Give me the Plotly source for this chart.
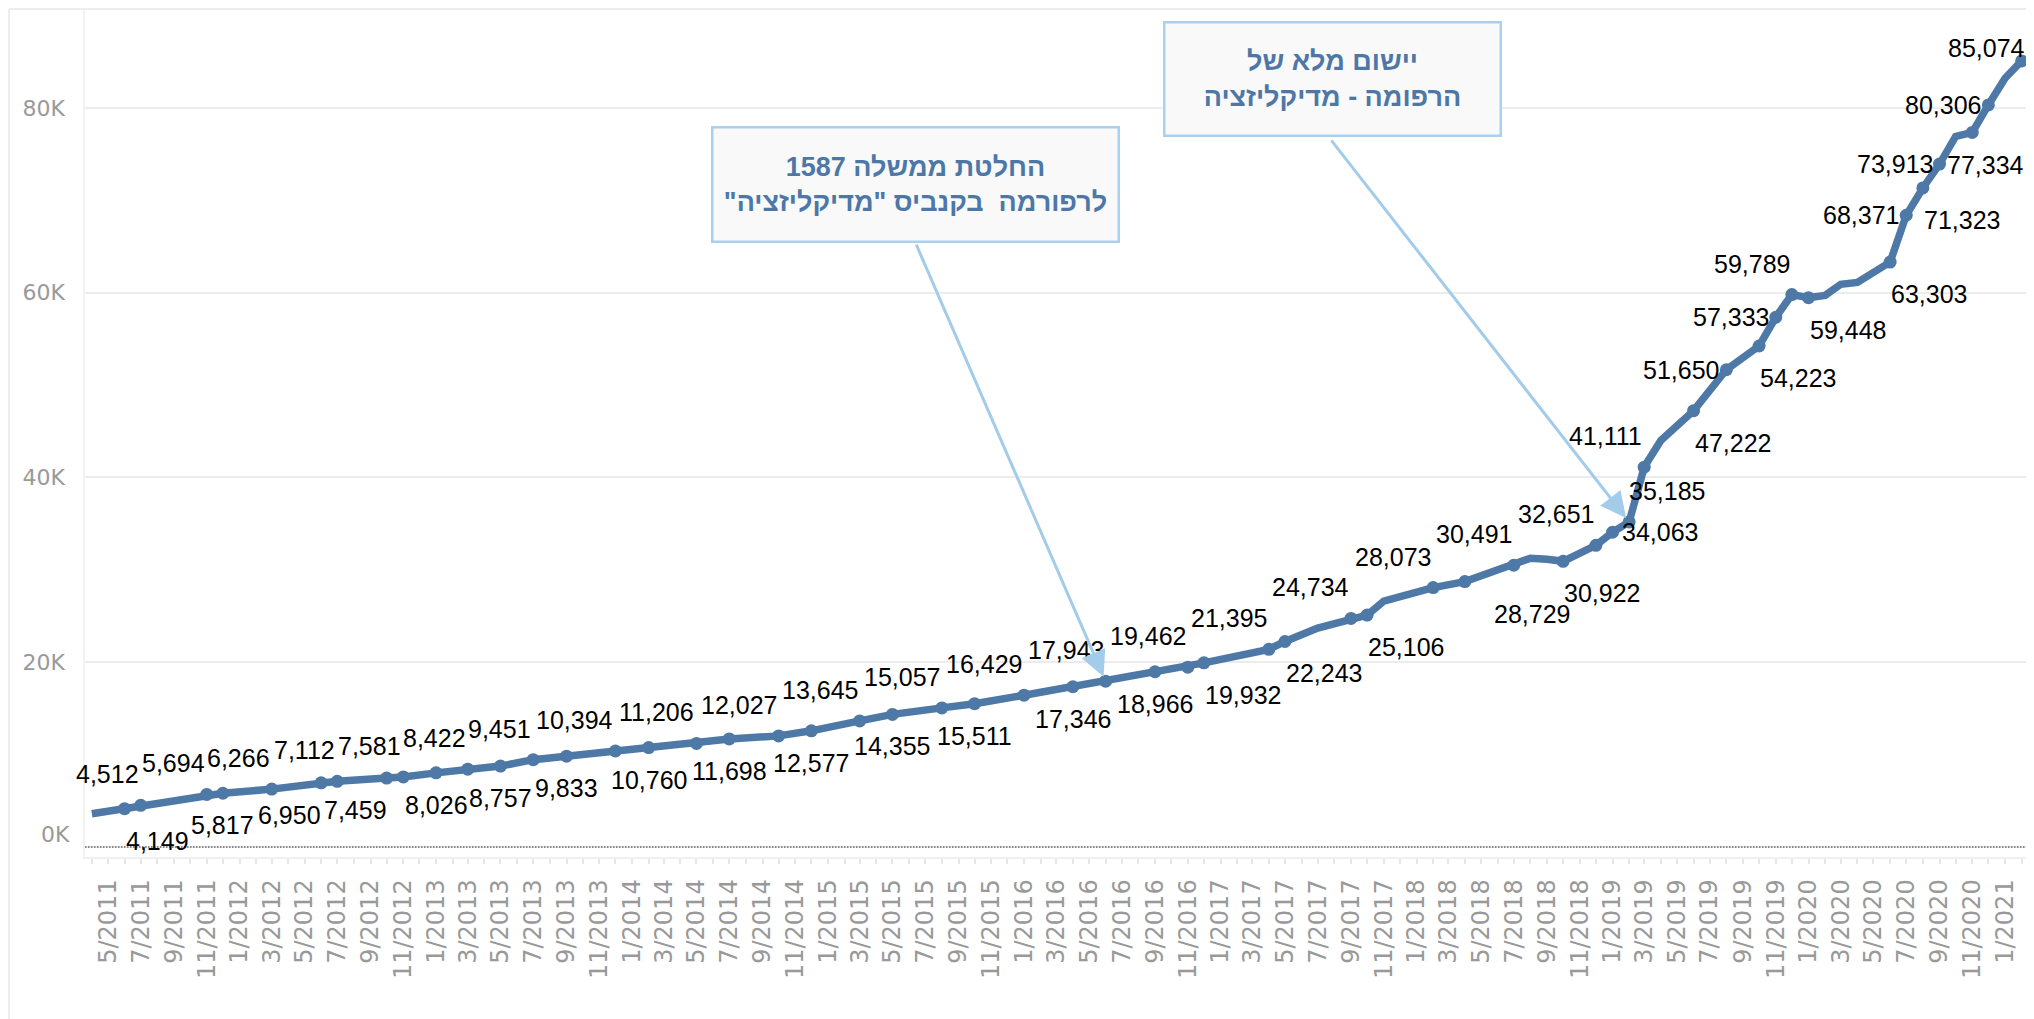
import plotly.graph_objects as go

# ---------------- data ----------------
# labelled monthly values (markers + value labels)
label_months = ["2011-06", "2011-07", "2011-11", "2011-12", "2012-03", "2012-06", "2012-07", "2012-10", "2012-11", "2013-01",
                "2013-03", "2013-05", "2013-07", "2013-09", "2013-12", "2014-02", "2014-05", "2014-07", "2014-10", "2014-12",
                "2015-03", "2015-05", "2015-08", "2015-10", "2016-01", "2016-04", "2016-06", "2016-09", "2016-11", "2016-12",
                "2017-04", "2017-05", "2017-09", "2017-10", "2018-02", "2018-04", "2018-07", "2018-10", "2018-12", "2019-01",
                "2019-02", "2019-03", "2019-06", "2019-08", "2019-10", "2019-11", "2019-12", "2020-01", "2020-06", "2020-07",
                "2020-08", "2020-09", "2020-11", "2020-12", "2021-02"]
label_values = [4149, 4512, 5694, 5817, 6266, 6950, 7112, 7459, 7581, 8026,
                8422, 8757, 9451, 9833, 10394, 10760, 11206, 11698, 12027, 12577,
                13645, 14355, 15057, 15511, 16429, 17346, 17943, 18966, 19462, 19932,
                21395, 22243, 24734, 25106, 28073, 28729, 30491, 30922, 32651, 34063,
                35185, 41111, 47222, 51650, 54223, 57333, 59789, 59448, 63303, 68371,
                71323, 73913, 77334, 80306, 85074]

# unlabelled vertices of the line that are visible as bends in the picture
bend_months = ["2011-04", "2017-07", "2017-11", "2018-08", "2018-09", "2019-04",
               "2020-02", "2020-03", "2020-04", "2020-10", "2021-01"]
bend_values = [3600, 23700, 26600, 31250, 31150, 44000,
               59700, 60900, 61100, 76900, 83200]

y_tick_values = [0, 20000, 40000, 60000, 80000]
y_tick_labels = ["0K", "20K", "40K", "60K", "80K"]

note_1_lines = ["החלטת ממשלה 1587", "לרפורמה  בקנביס \"מדיקליזציה\""]
note_2_lines = ["יישום מלא של", "הרפומה - מדיקליזציה"]

# ---------------- styling ----------------
# where each value label sits relative to its point
label_pos = ["br", "tl", "tl", "bc", "tl", "bl", "tl", "bl", "tl", "bc",
             "tl", "bc", "tl", "bc", "tl", "bc", "tl", "bc", "tl", "bc",
             "tl", "bc", "tl", "bc", "tl", "bc", "tl", "bc", "tl", "br",
             "tl", "br", "tl", "br", "tl", "bw", "tl", "br", "tl", "mr",
             "tr", "tl", "br", "ml", "br", "ml", "tl", "br", "br", "ml",
             "br", "ml", "bk", "ml", "tk"]
pos_style = {
    "tl": dict(xanchor="right", yanchor="middle", xshift=0, yshift=31),
    "tr": dict(xanchor="left", yanchor="middle", xshift=-2, yshift=31),
    "tk": dict(xanchor="right", yanchor="middle", xshift=5, yshift=13),
    "bc": dict(xanchor="center", yanchor="middle", xshift=0, yshift=-32),
    "br": dict(xanchor="left", yanchor="middle", xshift=-1, yshift=-32),
    "bw": dict(xanchor="left", yanchor="middle", xshift=27, yshift=-32),
    "bk": dict(xanchor="right", yanchor="middle", xshift=54, yshift=-33),
    "bl": dict(xanchor="right", yanchor="middle", xshift=2, yshift=-32),
    "ml": dict(xanchor="right", yanchor="middle", xshift=-5, yshift=0),
    "mr": dict(xanchor="left", yanchor="middle", xshift=7, yshift=0),
}

# the page body has an 8px default margin: work in page pixels, convert to figure pixels
BODY = 8
PAGE_W, PAGE_H = 2034, 1019
W, H = PAGE_W - BODY, PAGE_H - BODY
PLOT_L, PLOT_R, PLOT_T, PLOT_B = 85, 2028, 8, 857          # page pixels
ML, MR, MT, MB = PLOT_L - BODY, W - (PLOT_R - BODY), PLOT_T - BODY, H - (PLOT_B - BODY)
PW, PH = W - ML - MR, H - MT - MB

LINE_BLUE = "#4e79a7"
NOTE_BLUE = "#4d77a6"
ARROW_BLUE = "#a3cbea"
TICK_FONT = dict(family="DejaVu Sans, Verdana, sans-serif", size=22, color="#999999")


def px_x(px):
    return (px - PLOT_L) / PW


def px_y(py):
    return (PLOT_B - py) / PH


# line through every vertex (sorted by month)
pts = sorted(zip(label_months + bend_months, label_values + bend_values))
line_x = [p[0] for p in pts]
line_y = [p[1] for p in pts]

fig = go.Figure()
fig.add_trace(go.Scatter(
    x=line_x, y=line_y, mode="lines",
    line=dict(color=LINE_BLUE, width=7.5),
    hoverinfo="skip", showlegend=False, cliponaxis=False))
fig.add_trace(go.Scatter(
    x=label_months, y=label_values, mode="markers",
    marker=dict(color=LINE_BLUE, size=13),
    hoverinfo="skip", showlegend=False, cliponaxis=False))

annotations = []
for m, v, p in zip(label_months, label_values, label_pos):
    st = pos_style[p]
    annotations.append(dict(
        x=m, y=v, xref="x", yref="y", text=f"{v:,}", showarrow=False,
        font=dict(family="Liberation Sans, Arial, sans-serif", size=25, color="#000000"),
        **st))

# the "0K" tick label sits a little above the zero line, as in the original
annotations.append(dict(
    xref="paper", yref="y", x=0, y=y_tick_values[0], text=y_tick_labels[0],
    xanchor="right", yanchor="middle", xshift=-13, yshift=13,
    showarrow=False, font=TICK_FONT))


def rtl(s):
    return "\u200f" + s + "\u200f"


def note(lines, cx, cy, w, h):
    return dict(
        xref="paper", yref="paper", x=px_x(cx), y=px_y(cy),
        xanchor="center", yanchor="middle",
        text="<br>".join("<b>" + rtl(s) + "</b>" for s in lines),
        showarrow=False, align="center", valign="middle",
        bgcolor="#f9f9f9", bordercolor="#aad0ee", borderwidth=2.5, borderpad=0,
        width=w, height=h,
        font=dict(family="Liberation Sans, Arial, DejaVu Sans, sans-serif", size=27, color=NOTE_BLUE))


annotations.append(note(note_1_lines, 915.5, 184.5, 404, 112))
annotations.append(note(note_2_lines, 1332.5, 79, 334, 111))

# arrows from the notes to the points they refer to
i1 = label_values.index(17943)
i2 = label_values.index(35185)
annotations.append(dict(
    x=label_months[i1], y=label_values[i1], xref="x", yref="y",
    ax=-190, ay=-438, axref="pixel", ayref="pixel", text="",
    showarrow=True, arrowhead=2, arrowsize=1.7, arrowwidth=3, arrowcolor=ARROW_BLUE, standoff=5))
annotations.append(dict(
    x=label_months[i2], y=label_values[i2], xref="x", yref="y",
    ax=-299, ay=-383, axref="pixel", ayref="pixel", text="",
    showarrow=True, arrowhead=2, arrowsize=1.7, arrowwidth=3, arrowcolor=ARROW_BLUE, standoff=5))

shapes = [
    # dotted zero line
    dict(type="line", xref="paper", yref="y", x0=0, x1=1, y0=0, y1=0,
         line=dict(color="#666666", width=1.5, dash="1.5px,1.5px")),
    # faint outer border of the sheet
    dict(type="line", xref="paper", yref="paper", x0=px_x(9), x1=px_x(9), y0=px_y(9), y1=px_y(PAGE_H),
         line=dict(color="#ededed", width=2)),
    dict(type="line", xref="paper", yref="paper", x0=px_x(9), x1=px_x(PAGE_W), y0=px_y(9), y1=px_y(9),
         line=dict(color="#ededed", width=2)),
]

fig.update_layout(
    width=W, height=H, autosize=False,
    margin=dict(l=ML, r=MR, t=MT, b=MB, pad=0),
    paper_bgcolor="white", plot_bgcolor="white",
    showlegend=False,
    annotations=annotations,
    shapes=shapes,
    xaxis=dict(
        type="date",
        range=["2011-03-19 05:00", "2021-02-12 19:00"],
        tick0="2011-05-01", dtick="M2", tickformat="%-m/%Y",
        tickangle=-90,
        tickfont=dict(family="DejaVu Sans, Verdana, sans-serif", size=24, color="#999999"),
        ticks="outside", ticklen=5, tickcolor="#e6e6e6", tickwidth=1.5,
        minor=dict(dtick="M1", ticks="outside", ticklen=5, tickcolor="#e6e6e6", tickwidth=1.5, showgrid=False),
        showgrid=False, zeroline=False,
        showline=True, linecolor="#efefef", linewidth=1.5,
        ticklabelstandoff=6,
        fixedrange=True,
    ),
    yaxis=dict(
        range=[-1080, 90800],
        tickvals=y_tick_values, ticktext=[""] + y_tick_labels[1:],
        tickfont=TICK_FONT,
        ticks="", showgrid=True, gridcolor="#ececec", gridwidth=1.5,
        zeroline=False, showline=True, linecolor="#f2f2f2", linewidth=1.5,
        ticklabelstandoff=14,
        fixedrange=True,
    ),
)

fig.write_html("out.html")
